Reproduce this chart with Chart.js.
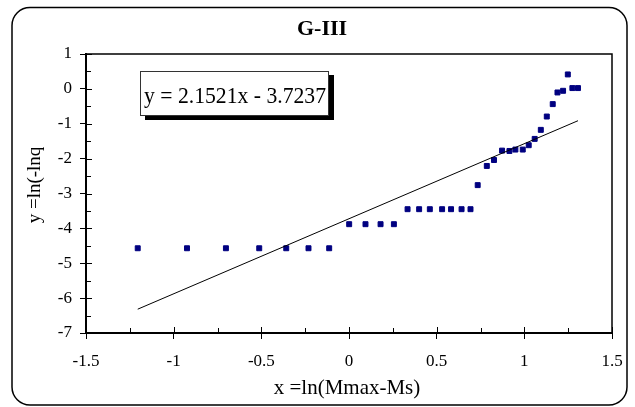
<!DOCTYPE html>
<html><head><meta charset="utf-8">
<script src="https://cdn.jsdelivr.net/npm/chart.js@4.4.1/dist/chart.umd.min.js"></script>
<style>html,body{margin:0;padding:0;background:#fff}#wrap{width:635px;height:407px}</style>
</head><body><div id="wrap"><canvas id="c" width="635" height="407"></canvas></div>
<script>
const chartTitle = 'G-III';
const xAxisTitle = 'x =ln(Mmax-Ms)';
const yAxisTitle = 'y =ln(-lnq';
const equationLabel = 'y = 2.1521x - 3.7237';
const xValues = [-1.205, -0.924, -0.702, -0.512, -0.358, -0.231, -0.113,
  0.001, 0.094, 0.180, 0.256,
  0.334, 0.400, 0.461, 0.531, 0.582, 0.642, 0.693,
  0.734, 0.786, 0.827, 0.873, 0.915, 0.949, 0.991, 1.025, 1.059, 1.094,
  1.128, 1.162, 1.189, 1.221, 1.248, 1.274, 1.306];
const yValues = [-4.57, -4.57, -4.57, -4.57, -4.57, -4.57, -4.57,
  -3.88, -3.88, -3.88, -3.88,
  -3.45, -3.45, -3.45, -3.45, -3.45, -3.45, -3.45,
  -2.76, -2.21, -2.04, -1.77, -1.78, -1.74, -1.74, -1.615, -1.434, -1.175,
  -0.793, -0.437, -0.103, -0.055, 0.414, 0.023, 0.023];
const trendSlope = 2.1521;
const trendIntercept = -3.7237;
const xTickValues = [-1.5, -1, -0.5, 0, 0.5, 1, 1.5];
const yTickValues = [-7, -6, -5, -4, -3, -2, -1, 0, 1];

const points = xValues.map((x, i) => ({x: x, y: yValues[i]}));
const xMin = Math.min(...xValues), xMax = Math.max(...xValues);
const trend = [xMin, xMax].map(x => ({x: x, y: trendSlope * x + trendIntercept}));
const serif = "'Liberation Serif', 'Times New Roman', serif";

function mids(arr) { const r = []; for (let i = 0; i < arr.length - 1; i++) r.push((arr[i] + arr[i+1]) / 2); return r; }

const decor = {
  id: 'decor',
  beforeDraw(chart) {
    const ctx = chart.ctx;
    ctx.save();
    ctx.fillStyle = '#fff';
    ctx.fillRect(0, 0, chart.width, chart.height);
    ctx.strokeStyle = '#000';
    ctx.lineWidth = 1.5;
    ctx.beginPath();
    ctx.roundRect(12, 7.5, 615, 397.5, 18);
    ctx.stroke();
    ctx.restore();
  },
  afterDraw(chart) {
    const ctx = chart.ctx, a = chart.chartArea;
    const xs = chart.scales.x, ys = chart.scales.y;
    ctx.save();
    // plot frame
    ctx.strokeStyle = '#000';
    ctx.lineWidth = 1.5;
    ctx.strokeRect(a.left, a.top, a.right - a.left, a.bottom - a.top);
    ctx.lineWidth = 2;
    ctx.beginPath();
    ctx.moveTo(a.left, a.top); ctx.lineTo(a.left, a.bottom); ctx.lineTo(a.right, a.bottom);
    ctx.stroke();
    // inner tick marks
    ctx.lineWidth = 1;
    ctx.beginPath();
    xTickValues.forEach(v => { const p = Math.round(xs.getPixelForValue(v)) + 0.5; ctx.moveTo(p, a.bottom); ctx.lineTo(p, a.bottom - 6); });
    mids(xTickValues).forEach(v => { const p = Math.round(xs.getPixelForValue(v)) + 0.5; ctx.moveTo(p, a.bottom); ctx.lineTo(p, a.bottom - 5); });
    yTickValues.forEach(v => { const p = Math.round(ys.getPixelForValue(v)) + 0.5; ctx.moveTo(a.left, p); ctx.lineTo(a.left + 6, p); });
    mids(yTickValues).forEach(v => { const p = Math.round(ys.getPixelForValue(v)) + 0.5; ctx.moveTo(a.left, p); ctx.lineTo(a.left + 5, p); });
    ctx.stroke();
    // equation box
    ctx.fillStyle = '#000';
    ctx.fillRect(145, 75, 189, 45);
    ctx.fillStyle = '#fff';
    ctx.fillRect(140, 71, 189, 45);
    ctx.strokeStyle = '#333';
    ctx.lineWidth = 1;
    ctx.strokeRect(140.5, 71.5, 188, 44);
    ctx.fillStyle = '#000';
    ctx.font = '23px ' + serif;
    ctx.textAlign = 'left';
    ctx.textBaseline = 'alphabetic';
    const w = ctx.measureText(equationLabel).width;
    ctx.save();
    ctx.translate(144, 103);
    ctx.scale(182 / w, 1);
    ctx.fillText(equationLabel, 0, 0);
    ctx.restore();
    // titles
    ctx.textAlign = 'center';
    ctx.font = 'bold 22px ' + serif;
    ctx.fillText(chartTitle, 322, 35);
    ctx.font = '21px ' + serif;
    ctx.fillText(xAxisTitle, 347, 394);
    ctx.save();
    ctx.translate(40, 185);
    ctx.rotate(-Math.PI / 2);
    ctx.font = '19px ' + serif;
    ctx.fillText(yAxisTitle, 0, 0);
    ctx.restore();
    ctx.restore();
  }
};

new Chart(document.getElementById('c'), {
  type: 'scatter',
  data: {
    datasets: [
      {
        label: 'trend', type: 'line', data: trend, order: 0,
        borderColor: '#000', borderWidth: 1, pointRadius: 0, fill: false, showLine: true
      },
      {
        label: 'G-III', data: points, order: 1,
        pointStyle: 'rect', pointRadius: 3.5, borderWidth: 1,
        backgroundColor: '#000080', borderColor: '#000080'
      }
    ]
  },
  options: {
    responsive: false,
    animation: false,
    devicePixelRatio: 1,
    layout: { padding: { left: 0, right: 23, top: 54, bottom: 0 } },
    plugins: { legend: { display: false }, title: { display: false }, tooltip: { enabled: false } },
    scales: {
      x: {
        type: 'linear', min: -1.5, max: 1.5,
        afterFit(s) { s.height = 74; },
        afterBuildTicks(s) { s.ticks = xTickValues.map(v => ({value: v})); },
        ticks: { color: '#000', font: { family: serif, size: 17 }, padding: 12, maxRotation: 0,
                 callback: v => String(v) },
        grid: { display: true, drawOnChartArea: false, drawTicks: true, tickLength: 6, color: '#000', lineWidth: 1 },
        border: { display: true, color: '#000', width: 2 }
      },
      y: {
        type: 'linear', min: -7, max: 1,
        afterFit(s) { s.width = 86; },
        afterBuildTicks(s) { s.ticks = yTickValues.map(v => ({value: v})); },
        ticks: { color: '#000', font: { family: serif, size: 17 }, padding: 8,
                 callback: v => String(v) },
        grid: { display: true, drawOnChartArea: false, drawTicks: true, tickLength: 6, color: '#000', lineWidth: 1 },
        border: { display: true, color: '#000', width: 2 }
      }
    }
  },
  plugins: [decor]
});
</script>
</body></html>
